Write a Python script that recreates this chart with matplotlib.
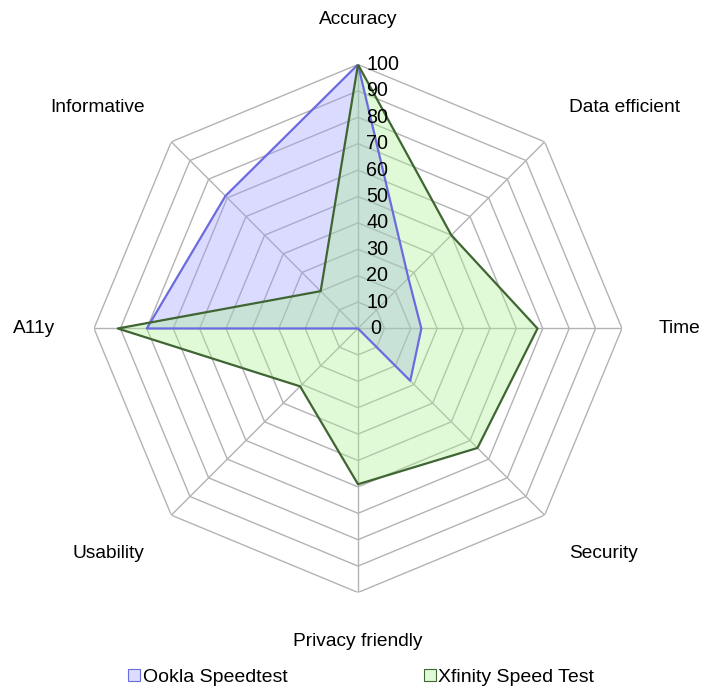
import numpy as np
import matplotlib
matplotlib.use("Agg")
import matplotlib.pyplot as plt
from matplotlib.patches import Patch

plt.rcParams['font.family'] = ['Liberation Sans', 'DejaVu Sans']

categories = ["Accuracy", "Data efficient", "Time", "Security",
              "Privacy friendly", "Usability", "A11y", "Informative"]
ookla = [100, 27, 24, 28, 0, 0, 80, 71]
xfinity = [100, 50, 68, 64, 59, 31, 91, 20]
series_names = ["Ookla Speedtest", "Xfinity Speed Test"]
tick_values = list(range(0, 101, 10))

N = len(categories)
angles = np.linspace(0, 2 * np.pi, N, endpoint=False)
ang_closed = np.concatenate([angles, angles[:1]])

fig = plt.figure(figsize=(7.2, 6.95), dpi=100)
ax = fig.add_axes([0.1305, 0.1475, 0.7334, 0.7597], projection='polar')
ax.set_theta_offset(np.pi / 2)
ax.set_theta_direction(-1)
ax.set_ylim(0, 100)
ax.grid(False)
ax.spines['polar'].set_visible(False)
ax.set_xticks([])
ax.set_yticks([])
ax.patch.set_alpha(0)

grid_color = '#b3b3b3'
for t in tick_values[1:]:
    ax.plot(ang_closed, [t] * (N + 1), color=grid_color, lw=1.0, zorder=1)
for a in angles:
    ax.plot([a, a], [0, 100], color=grid_color, lw=1.0, zorder=1)

def closed(v):
    return list(v) + [v[0]]

ookla_face = (0.6, 0.6, 1.0, 0.35)
xf_face = (0.66, 0.94, 0.56, 0.35)
ax.fill(ang_closed, closed(ookla), color=ookla_face, zorder=2, lw=0)
ax.fill(ang_closed, closed(xfinity), color=xf_face, zorder=3, lw=0)
ax.plot(ang_closed, closed(ookla), color='#6b6be0', lw=1.6, zorder=4)
ax.plot(ang_closed, closed(xfinity), color='#3f6632', lw=1.6, zorder=5)

for t in tick_values:
    ax.annotate(str(t), xy=(0, t), xytext=(5.8 if t else 9, 0), textcoords='offset points',
                ha='left', va='center', fontsize=14.2, color='black', zorder=6)

align = [('center', 'bottom'), ('left', 'bottom'), ('left', 'center'), ('left', 'top'),
         ('center', 'top'), ('right', 'top'), ('right', 'center'), ('right', 'bottom')]
label_r = [114, 114, 114, 115.8, 115.4, 115.8, 114.5, 114]
label_dx = [0, -1, 0, -3.5, 0, 2.2, 0, 0]
for a, lab, (ha, va), r, dx in zip(angles, categories, align, label_r, label_dx):
    ax.annotate(lab, xy=(a, r), xytext=(dx, 0), textcoords='offset points',
                ha=ha, va=va, fontsize=13.8, color='black', annotation_clip=False)

handles = [Patch(facecolor='#dcdcfc', edgecolor='#6b6be0', lw=0.8),
           Patch(facecolor='#e0fad8', edgecolor='#3f6632', lw=0.8)]
fig.legend(handles, series_names, loc='center', bbox_to_anchor=(0.502, 0.025), ncol=2,
           frameon=False, fontsize=14, handlelength=0.6, handleheight=0.6,
           handletextpad=0.15, columnspacing=7.0)

fig.savefig('out.png', dpi=100)
